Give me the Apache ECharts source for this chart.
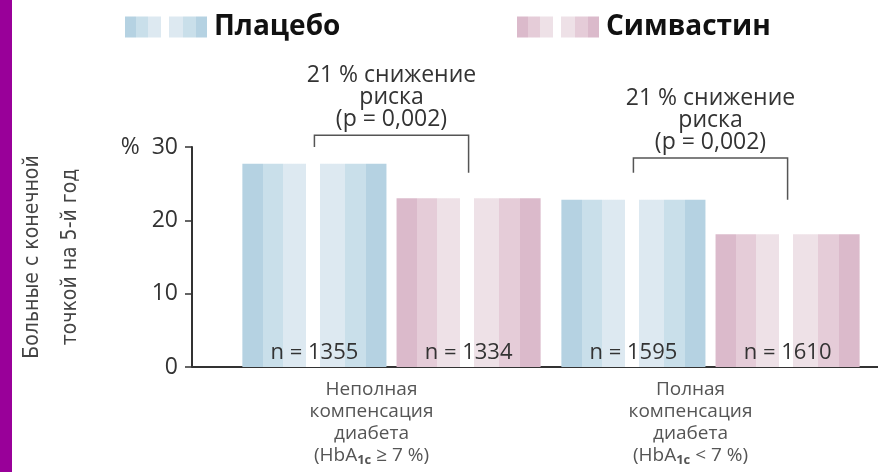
<!DOCTYPE html>
<html>
<head>
<meta charset="utf-8">
<script src="https://cdn.jsdelivr.net/npm/echarts@6/dist/echarts.min.js"></script>
<style>
  html, body { margin: 0; padding: 0; background: #fff; }
  #chart { width: 883px; height: 472px; }
</style>
</head>
<body>
<div id="chart"></div>
<script>
// ---- data ----
const categories = [
  'Неполная\nкомпенсация\nдиабета\n(HbA1c ≥ 7 %)',
  'Полная\nкомпенсация\nдиабета\n(HbA1c < 7 %)'
];
const seriesNames = ['Плацебо', 'Симвастин'];
const placeboValues = [27.7, 22.8];
const simvastatinValues = [23.0, 18.1];
const placeboN = [1355, 1595];
const simvastatinN = [1334, 1610];
const yTicks = [0, 10, 20, 30];
const yAxisName = 'Больные с конечной\nточкой на 5-й год';
const annotationTexts = ['21 % снижение\nриска\n(p = 0,002)', '21 % снижение\nриска\n(p = 0,002)'];
// bracket: top level, left leg end, right leg end (in % units)
const bracketTop = [31.6, 28.5];
const bracketLeftEnd = [30.0, 26.5];
const bracketRightEnd = [26.5, 22.8];

// ---- styles ----
const FONT = '"Open Sans", "DejaVu Sans", sans-serif';
function striped(dark, mid, light) {
  const s = [
    [0, dark], [0.14, dark], [0.14, mid], [0.28, mid], [0.28, light], [0.44, light],
    [0.44, '#ffffff'], [0.54, '#ffffff'],
    [0.54, light], [0.71, light], [0.71, mid], [0.86, mid], [0.86, dark], [1, dark]
  ];
  return new echarts.graphic.LinearGradient(0, 0, 1, 0, s.map(p => ({ offset: p[0], color: p[1] })));
}
const blueFill = striped('#b5d2e2', '#c9dfea', '#dde9f1');
const pinkFill = striped('#dbbacb', '#e5ccd8', '#eee1e7');
const CAT_GAP = 0.065, BAR_GAP = 0.07;

const chart = echarts.init(document.getElementById('chart'), null, { renderer: 'canvas' });

const bracketData = categories.map((c, i) => [i, bracketTop[i], bracketLeftEnd[i], bracketRightEnd[i]]);

const legendText = { fontFamily: FONT, fontWeight: 'bold', fontSize: 28, color: '#111', padding: [0, 0, 0, 2] };

const option = {
  animation: false,
  backgroundColor: '#ffffff',
  legend: [
    {
      left: 120, top: 8, itemWidth: 82, itemHeight: 21,
      icon: 'rect', data: [seriesNames[0]], textStyle: legendText
    },
    {
      left: 512, top: 8, itemWidth: 82, itemHeight: 21,
      icon: 'rect', data: [seriesNames[1]], textStyle: legendText
    }
  ],
  grid: { left: 232, right: 13, top: 147, bottom: 105, containLabel: false },
  xAxis: {
    type: 'category',
    data: categories,
    axisLine: { show: false },
    axisTick: { show: false },
    axisLabel: {
      margin: 12,
      fontFamily: FONT, fontSize: 19, lineHeight: 22, color: '#555',
      padding: [0, 40, 0, 0],
      formatter: v => v.replace('HbA1c', 'HbA{s|1c}'),
      rich: { s: { fontFamily: FONT, fontSize: 13, fontWeight: 'bold', color: '#555', padding: [8, 0, 0, 0] } }
    }
  },
  yAxis: {
    type: 'value',
    min: yTicks[0], max: yTicks[yTicks.length - 1], interval: 10,
    offset: 40,
    splitLine: { show: false },
    axisLine: { show: true, lineStyle: { color: '#333', width: 2 } },
    axisTick: { show: true, length: 7, lineStyle: { color: '#333', width: 1.5 } },
    axisLabel: {
      margin: 14, fontFamily: FONT, fontSize: 23, color: '#333',
      formatter: v => (v === 30 ? '%  ' + v : String(v))
    },
    name: yAxisName,
    nameLocation: 'middle',
    nameGap: 102,
    nameTextStyle: {
      fontFamily: '"DejaVu Sans Condensed", "Liberation Sans Narrow", "Liberation Sans", sans-serif',
      fontSize: 21, lineHeight: 38, color: '#444', align: 'center'
    }
  },
  series: [
    {
      name: seriesNames[0], type: 'bar', data: placeboValues,
      barCategoryGap: (CAT_GAP * 100) + '%', barGap: (BAR_GAP * 100) + '%',
      itemStyle: { color: blueFill },
      label: {
        show: true, position: 'insideBottom', distance: 3,
        fontFamily: FONT, fontSize: 22, color: '#333',
        formatter: p => 'n = ' + placeboN[p.dataIndex]
      },
      silent: true
    },
    {
      name: seriesNames[1], type: 'bar', data: simvastatinValues,
      itemStyle: { color: pinkFill },
      label: {
        show: true, position: 'insideBottom', distance: 3,
        fontFamily: FONT, fontSize: 22, color: '#333',
        formatter: p => 'n = ' + simvastatinN[p.dataIndex]
      },
      silent: true
    },
    {
      name: 'bracket', type: 'custom', silent: true, z: 5,
      data: bracketData,
      encode: { x: 0, y: 1 },
      renderItem: function (params, api) {
        const idx = api.value(0);
        const top = api.coord([idx, api.value(1)]);
        const yL = api.coord([idx, api.value(2)])[1];
        const yR = api.coord([idx, api.value(3)])[1];
        const band = api.size([1, 0])[0];
        const barW = band * (1 - CAT_GAP) / (2 + BAR_GAP);
        const total = 2 * barW + barW * BAR_GAP;
        const xl = top[0] - total / 2 + barW / 2;
        const xr = top[0] + total / 2 - barW / 2;
        return {
          type: 'group',
          children: [
            {
              type: 'polyline',
              shape: { points: [[xl, yL], [xl, top[1]], [xr, top[1]], [xr, yR]] },
              style: { stroke: '#555', lineWidth: 1.5, fill: null }
            },
            {
              type: 'text',
              style: {
                text: annotationTexts[params.dataIndex],
                x: (xl + xr) / 2, y: top[1] - 5,
                align: 'center', verticalAlign: 'bottom',
                fontFamily: FONT, fontSize: 23, lineHeight: 22, fill: '#333'
              }
            }
          ]
        };
      }
    }
  ]
};
chart.setOption(option);

// left purple strip and baseline of the x-axis (spanning from the y-axis line)
const y0 = chart.convertToPixel({ yAxisIndex: 0 }, 0);
chart.setOption({
  graphic: [
    { type: 'rect', left: 0, top: 0, shape: { width: 12, height: 472 }, style: { fill: '#990099' }, silent: true },
    { type: 'line', shape: { x1: 192, y1: y0, x2: 878, y2: y0 }, style: { stroke: '#333', lineWidth: 2 }, silent: true }
  ]
});
</script>
</body>
</html>
